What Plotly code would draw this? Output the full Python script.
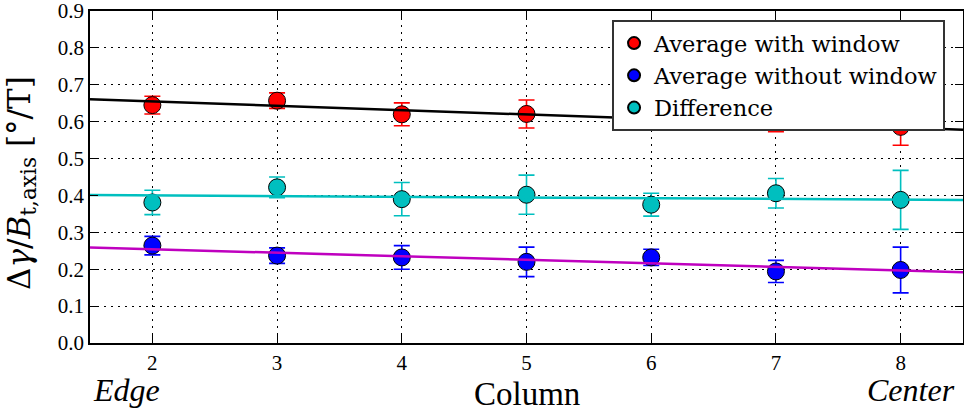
import plotly.graph_objects as go

columns = [2, 3, 4, 5, 6, 7, 8]
with_window = [0.645, 0.657, 0.620, 0.621, 0.604, 0.600, 0.586]
with_window_err = [0.024, 0.021, 0.031, 0.038, 0.023, 0.027, 0.050]
without_window = [0.264, 0.237, 0.232, 0.220, 0.232, 0.194, 0.198]
without_window_err = [0.025, 0.021, 0.032, 0.040, 0.022, 0.030, 0.062]
difference = [0.381, 0.422, 0.390, 0.402, 0.375, 0.406, 0.388]
difference_err = [0.033, 0.028, 0.045, 0.053, 0.031, 0.040, 0.080]

fit_x = [1.5, 8.5]
fit_with = [0.661, 0.578]
fit_without = [0.259, 0.192]
fit_diff = [0.401, 0.388]

y_ticks = [0.0, 0.1, 0.2, 0.3, 0.4, 0.5, 0.6, 0.7, 0.8, 0.9]

RED = "#ff0000"
BLUE = "#0000ff"
CYAN = "#00bfbf"
MAGENTA = "#bf00bf"
FONT = "Liberation Serif, DejaVu Serif, serif"
WIDE = "DejaVu Serif, Liberation Serif, serif"

fig = go.Figure()

def add_series(y, err, color, name):
    fig.add_trace(go.Scatter(
        x=columns, y=y, mode="markers", name=name,
        marker=dict(size=17, color=color, line=dict(color="black", width=1)),
        error_y=dict(type="data", array=err, visible=True, color=color,
                     thickness=1.6, width=8),
    ))

add_series(with_window, with_window_err, RED, "Average with window")
add_series(without_window, without_window_err, BLUE, "Average without window")
add_series(difference, difference_err, CYAN, "Difference")

for fy, c in [(fit_with, "black"), (fit_without, MAGENTA), (fit_diff, CYAN)]:
    fig.add_trace(go.Scatter(x=fit_x, y=fy, mode="lines", showlegend=False,
                             line=dict(color=c, width=2.5), hoverinfo="skip"))

axis_common = dict(
    showline=True, linecolor="black", linewidth=1.6, mirror="ticks",
    ticks="inside", ticklen=8, tickwidth=1.2, tickcolor="black",
    showgrid=True, gridcolor="black", gridwidth=1.2, griddash="2px,5px",
    zeroline=False, tickfont=dict(family=FONT, size=21, color="black"),
    automargin=False, ticklabeloverflow="allow",
)

fig.update_xaxes(range=[1.5, 8.5], tickvals=columns, **axis_common)
fig.update_yaxes(range=[0, 0.9001], tickvals=y_ticks, tickformat=".1f",
                 **axis_common)

fig.add_annotation(text="Δ<i>γ</i>/<i>B</i><sub>t,axis</sub> [°/T]",
                   xref="paper", yref="paper", x=-0.078, y=0.482,
                   xanchor="center", yanchor="middle", textangle=-90,
                   showarrow=False,
                   font=dict(family=WIDE, size=31, color="black"))
fig.add_annotation(text="Column", xref="paper", yref="paper", x=0.5, y=-0.153,
                   xanchor="center", yanchor="middle", showarrow=False,
                   font=dict(family=FONT, size=33, color="black"))
fig.add_annotation(text="<i>Edge</i>", xref="paper", yref="paper", x=0.042, y=-0.141,
                   xanchor="center", yanchor="middle", showarrow=False,
                   font=dict(family=FONT, size=32, color="black"))
fig.add_annotation(text="<i>Center</i>", xref="paper", yref="paper", x=0.94, y=-0.141,
                   xanchor="center", yanchor="middle", showarrow=False,
                   font=dict(family=FONT, size=32, color="black"))

fig.update_layout(
    width=964, height=411,
    margin=dict(l=90, r=1, t=11, b=68),
    paper_bgcolor="white", plot_bgcolor="white",
    font=dict(family=FONT, color="black"),
    showlegend=True,
    legend=dict(x=0.598, y=0.973, xanchor="left", yanchor="top",
                bgcolor="white", bordercolor="#333333", borderwidth=2,
                font=dict(family=WIDE, size=22.5, color="black"),
                tracegroupgap=0, itemsizing="constant"),
)

fig.write_html("out.html", config={"displayModeBar": False},
               post_script="document.body.style.margin='0';document.body.style.overflow='hidden';")
